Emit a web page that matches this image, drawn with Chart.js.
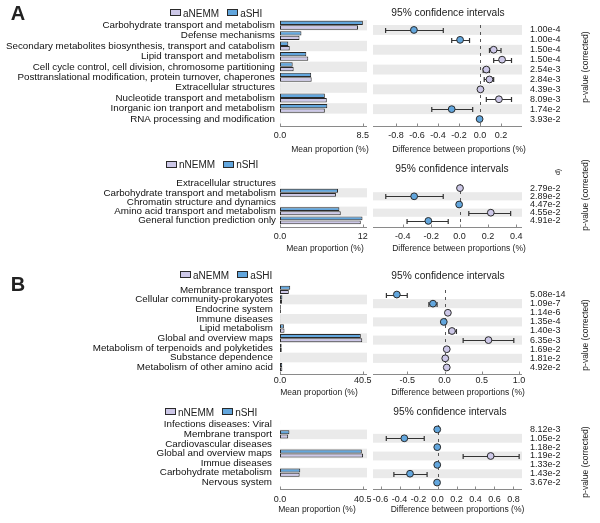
<!DOCTYPE html>
<html>
<head>
<meta charset="utf-8">
<script src="https://cdn.jsdelivr.net/npm/chart.js@4.4.1/dist/chart.umd.min.js"></script>
<style>
  body { margin: 0; background: #fff; overflow: hidden; }
  #fig { position: relative; width: 600px; height: 523px; font-family: "Liberation Sans", Arial, sans-serif; color: #222; }
  #fig canvas { position: absolute; }
  .txt { position: absolute; white-space: nowrap; line-height: 1; }
  .legend { position: absolute; white-space: nowrap; font-size: 10px; line-height: 1; transform: translate(0, -50%); }
  .legend .box { display: inline-block; width: 9px; height: 5px; border: 1px solid #2a2a2a; margin-right: 2px; vertical-align: middle; position: relative; top: -1px; }
</style>
</head>
<body>
<div id="fig"></div>
<script>
// ---- panel A, top: aNEMM vs aSHI ----
const a1Groups = ["aNEMM", "aSHI"];
const a1Cats = [
  "Carbohydrate transport and metabolism",
  "Defense mechanisms",
  "Secondary metabolites biosynthesis, transport and catabolism",
  "Lipid transport and metabolism",
  "Cell cycle control, cell division, chromosome partitioning",
  "Posttranslational modification, protein turnover, chaperones",
  "Extracellular structures",
  "Nucleotide transport and metabolism",
  "Inorganic ion tranport and metabolism",
  "RNA processing and modification",
];
const a1Nemm = [8.0, 2.0, 1.0, 2.9, 1.4, 3.25, 0.02, 4.8, 4.6, 0.02];
const a1Shi = [8.5, 2.2, 0.85, 2.7, 1.3, 3.2, 0.02, 4.6, 4.85, 0.02];
const a1Diff = [-0.63, -0.19, 0.13, 0.21, 0.06, 0.09, 0.004, 0.18, -0.27, -0.004];
const a1Lo = [-0.9, -0.27, 0.09, 0.13, 0.03, 0.04, 0.004, 0.06, -0.46, -0.004];
const a1Hi = [-0.35, -0.1, 0.2, 0.3, 0.09, 0.13, 0.004, 0.3, -0.07, -0.004];
const a1P = ["1.00e-4", "1.00e-4", "1.50e-4", "1.50e-4", "2.54e-3", "2.84e-3", "4.39e-3", "8.09e-3", "1.74e-2", "3.93e-2"];
const a1MeanTicks = [0, 8.5];
const a1DiffTicks = [-0.8, -0.6, -0.4, -0.2, 0, 0.2];

// ---- panel A, bottom: nNEMM vs nSHI ----
const a2Groups = ["nNEMM", "nSHI"];
const a2Cats = [
  "Extracellular structures",
  "Carbohydrate transport and metabolism",
  "Chromatin structure and dynamics",
  "Amino acid transport and metabolism",
  "General function prediction only",
];
const a2Nemm = [0.02, 8.1, 0.02, 8.8, 11.7];
const a2Shi = [0.02, 8.4, 0.02, 8.6, 11.95];
const a2Diff = [0.003, -0.32, -0.003, 0.22, -0.22];
const a2Lo = [0.003, -0.52, -0.003, 0.065, -0.37];
const a2Hi = [0.003, -0.115, -0.003, 0.36, -0.08];
const a2P = ["2.79e-2", "2.89e-2", "4.47e-2", "4.55e-2", "4.91e-2"];
const a2MeanTicks = [0, 12];
const a2DiffTicks = [-0.4, -0.2, 0, 0.2, 0.4];

// ---- panel B, top: aNEMM vs aSHI ----
const b1Groups = ["aNEMM", "aSHI"];
const b1Cats = [
  "Membrance transport",
  "Cellular community-prokaryotes",
  "Endocrine system",
  "Immune diseases",
  "Lipid metabolism",
  "Global and overview maps",
  "Metabolism of terpenoids and polyketides",
  "Substance dependence",
  "Metabolism of other amino acid",
];
const b1Nemm = [4.3, 1.0, 0.45, 0.1, 2.2, 40.2, 0.85, 0.06, 1.15];
const b1Shi = [5.0, 1.15, 0.4, 0.1, 1.9, 39.5, 0.8, 0.05, 1.1];
const b1Diff = [-0.64, -0.155, 0.045, -0.01, 0.1, 0.59, 0.03, 0.01, 0.03];
const b1Lo = [-0.78, -0.21, 0.045, -0.01, 0.06, 0.25, 0.03, 0.01, 0.03];
const b1Hi = [-0.5, -0.1, 0.045, -0.01, 0.16, 0.93, 0.03, 0.01, 0.03];
const b1P = ["5.08e-14", "1.09e-7", "1.14e-6", "1.35e-4", "1.40e-3", "6.35e-3", "1.69e-2", "1.81e-2", "4.92e-2"];
const b1MeanTicks = [0, 40.5];
const b1DiffTicks = [-0.5, 0, 0.5, 1.0];

// ---- panel B, bottom: nNEMM vs nSHI ----
const b2Groups = ["nNEMM", "nSHI"];
const b2Cats = [
  "Infections diseases: Viral",
  "Membrane transport",
  "Cardiovascular diseases",
  "Global and overview maps",
  "Immue diseases",
  "Carbohydrate metabolism",
  "Nervous system",
];
const b2Nemm = [0.05, 4.0, 0.05, 40.6, 0.05, 9.6, 0.05];
const b2Shi = [0.05, 4.6, 0.05, 40.0, 0.05, 9.9, 0.05];
const b2Diff = [-0.003, -0.35, -0.003, 0.56, -0.003, -0.29, -0.005];
const b2Lo = [-0.003, -0.54, -0.003, 0.27, -0.003, -0.46, -0.005];
const b2Hi = [-0.003, -0.14, -0.003, 0.86, -0.003, -0.11, -0.005];
const b2P = ["8.12e-3", "1.05e-2", "1.18e-2", "1.19e-2", "1.33e-2", "1.43e-2", "3.67e-2"];
const b2MeanTicks = [0, 40.5];
const b2DiffTicks = [-0.6, -0.4, -0.2, 0, 0.2, 0.4, 0.6, 0.8];

/** ────── STYLE ────── */
const BLUE = "#62a6dd";
const LAV = "#cdc8e8";
const EDGE = "#2a2a2a";
const SHADE = "#eaeaea";
const AXIS = "#8a8a8a";

Chart.defaults.font.family = '"Liberation Sans", Arial, sans-serif';
Chart.defaults.color = "#222";

// layout of each sub-plot (pixels on the 600x523 page)
const panels = [
  {
    cats: a1Cats, nemm: a1Nemm, shi: a1Shi, diff: a1Diff, lo: a1Lo, hi: a1Hi, pvals: a1P, groups: a1Groups,
    meanTicks: a1MeanTicks, diffTicks: a1DiffTicks, diffMin: -1.02, diffMax: 0.4,
    top: 20, rowH: 10.37, labelPad: 5, tickPad: 6, letter: "A", letterY: 13,
    legendX: 170, legendY: 13.5, titleX: 448, titleY: 12.5, axisTitleY: 149,
    meanTitleX: 330, diffTitleX: 459, pTitleY: 67,
  },
  {
    cats: a2Cats, nemm: a2Nemm, shi: a2Shi, diff: a2Diff, lo: a2Lo, hi: a2Hi, pvals: a2P, groups: a2Groups,
    meanTicks: a2MeanTicks, diffTicks: a2DiffTicks, diffMin: -0.61, diffMax: 0.44,
    top: 179, rowH: 9.17, labelPad: 4, tickPad: 6,
    legendX: 166, legendY: 165, titleX: 452, titleY: 168.5, axisTitleY: 248,
    meanTitleX: 325, diffTitleX: 459, pTitleY: 195,
  },
  {
    cats: b1Cats, nemm: b1Nemm, shi: b1Shi, diff: b1Diff, lo: b1Lo, hi: b1Hi, pvals: b1P, groups: b1Groups,
    meanTicks: b1MeanTicks, diffTicks: b1DiffTicks, diffMin: -0.96, diffMax: 1.04,
    top: 285, rowH: 9.66, labelPad: 7, tickPad: 3, letter: "B", letterY: 284,
    legendX: 180, legendY: 275.5, titleX: 448, titleY: 275.5, axisTitleY: 391.5,
    meanTitleX: 319, diffTitleX: 458, pTitleY: 335,
  },
  {
    cats: b2Cats, nemm: b2Nemm, shi: b2Shi, diff: b2Diff, lo: b2Lo, hi: b2Hi, pvals: b2P, groups: b2Groups,
    meanTicks: b2MeanTicks, diffTicks: b2DiffTicks, diffMin: -0.68, diffMax: 0.89,
    top: 420, rowH: 9.62, labelPad: 8, tickPad: 7,
    legendX: 165, legendY: 412.5, titleX: 450, titleY: 411.5, axisTitleY: 509,
    meanTitleX: 317, diffTitleX: 457.5, pTitleY: 462,
  },
];

const fig = document.getElementById("fig");

/** ────── PLUGINS ────── */
// grey band on every other row, counted from the bottom row
const shadePlugin = {
  id: "rowShade",
  beforeDatasetsDraw(chart) {
    const { ctx, chartArea: a, scales } = chart;
    const y = scales.y;
    const n = chart.data.labels.length;
    const h = (a.bottom - a.top) / n;
    ctx.save();
    ctx.fillStyle = SHADE;
    for (let i = 0; i < n; i++) {
      if ((n - 1 - i) % 2 !== 1) continue;
      const cy = y.getPixelForValue(i);
      ctx.fillRect(a.left, cy - h / 2, a.right - a.left, h);
    }
    ctx.restore();
  },
};

// bottom axis line with small upward ticks, a little below the rows
const axisPlugin = {
  id: "axisLine",
  afterDraw(chart) {
    const { ctx, chartArea: a, scales } = chart;
    const x = scales.x;
    const yl = Math.round(a.bottom + 2) + 0.5;
    ctx.save();
    ctx.strokeStyle = AXIS;
    ctx.lineWidth = 1;
    ctx.beginPath();
    ctx.moveTo(a.left, yl);
    ctx.lineTo(a.right, yl);
    x.ticks.forEach((t) => {
      const px = Math.round(x.getPixelForValue(t.value)) + 0.5;
      ctx.moveTo(px, yl);
      ctx.lineTo(px, yl - 3);
    });
    ctx.stroke();
    ctx.restore();
  },
};

// dashed zero line and the confidence interval whiskers
const ciPlugin = {
  id: "ciMarks",
  beforeDatasetsDraw(chart) {
    const { ctx, chartArea: a, scales } = chart;
    const { x, y } = scales;
    const ds = chart.data.datasets[0];
    ctx.save();
    const x0 = Math.round(x.getPixelForValue(0)) + 0.5;
    ctx.strokeStyle = "#555";
    ctx.lineWidth = 1;
    ctx.setLineDash([3, 4]);
    ctx.beginPath();
    ctx.moveTo(x0, a.top);
    ctx.lineTo(x0, a.bottom);
    ctx.stroke();
    ctx.setLineDash([]);
    ctx.strokeStyle = "#333";
    ctx.lineWidth = 1.2;
    ds.errLo.forEach((lo, i) => {
      const hi = ds.errHi[i];
      if (hi - lo < 1e-6) return;
      const py = Math.round(y.getPixelForValue(i)) + 0.5;
      const p1 = x.getPixelForValue(lo);
      const p2 = x.getPixelForValue(hi);
      ctx.beginPath();
      ctx.moveTo(p1, py);
      ctx.lineTo(p2, py);
      ctx.moveTo(p1, py - 2.5);
      ctx.lineTo(p1, py + 2.5);
      ctx.moveTo(p2, py - 2.5);
      ctx.lineTo(p2, py + 2.5);
      ctx.stroke();
    });
    ctx.restore();
  },
};

/** ────── HELPERS ────── */
function makeCanvas(left, top, w, h) {
  const cv = document.createElement("canvas");
  cv.width = w;
  cv.height = h;
  cv.style.left = left + "px";
  cv.style.top = top + "px";
  cv.style.width = w + "px";
  cv.style.height = h + "px";
  fig.appendChild(cv);
  return cv;
}

function addText(str, x, y, size, opts = {}) {
  const el = document.createElement("div");
  el.className = "txt";
  el.textContent = str;
  el.style.fontSize = size + "px";
  el.style.left = x + "px";
  el.style.top = y + "px";
  let tf = "translate(-50%, -50%)";
  if (opts.rotate) tf += ` rotate(${opts.rotate}deg)`;
  el.style.transform = tf;
  if (opts.bold) el.style.fontWeight = "bold";
  fig.appendChild(el);
}

function addLegend(names, x, y) {
  const el = document.createElement("div");
  el.className = "legend";
  el.style.left = x + "px";
  el.style.top = y + "px";
  el.innerHTML =
    `<span class="box" style="background:${LAV}"></span>${names[0]}` +
    `<span class="box" style="background:${BLUE};margin-left:8px"></span>${names[1]}`;
  fig.appendChild(el);
}

const quietGrid = { display: false, drawTicks: false };

/** ────── MEAN PROPORTION BARS ────── */
function drawMeans(p) {
  const n = p.cats.length;
  const h = Math.round(p.rowH * n) + 24;
  const cv = makeCanvas(0, p.top, 376, h);
  const barStyle = { borderColor: EDGE, borderWidth: 1, borderSkipped: false, categoryPercentage: 0.88, barPercentage: 0.95 };
  new Chart(cv, {
    type: "bar",
    data: {
      labels: p.cats,
      datasets: [
        { label: p.groups[1], data: p.shi, backgroundColor: BLUE, ...barStyle },
        { label: p.groups[0], data: p.nemm, backgroundColor: LAV, ...barStyle },
      ],
    },
    options: {
      indexAxis: "y",
      responsive: false,
      animation: false,
      layout: { padding: { right: 9 } },
      scales: {
        x: {
          type: "linear",
          min: 0,
          max: p.meanTicks[1] * 1.05,
          afterBuildTicks: (s) => { s.ticks = p.meanTicks.map((v) => ({ value: v })); },
          afterFit: (s) => { s.height = 24; s.paddingLeft = 0; s.paddingRight = 0; },
          ticks: { padding: p.tickPad, font: { size: 9 }, maxRotation: 0, autoSkip: false,
            callback: (v) => (v === 0 ? "0.0" : String(v)) },
          grid: quietGrid,
          border: { display: false },
        },
        y: {
          afterFit: (s) => { s.width = 280; s.paddingTop = 0; s.paddingBottom = 0; },
          ticks: { padding: p.labelPad, font: { size: 9.8, lineHeight: 1 }, color: "#111", autoSkip: false },
          grid: quietGrid,
          border: { display: false },
        },
      },
      plugins: { legend: { display: false }, tooltip: { enabled: false } },
    },
    plugins: [shadePlugin, axisPlugin],
  });
}

/** ────── DIFFERENCE / CONFIDENCE INTERVALS ────── */
function drawDiffs(p) {
  const n = p.cats.length;
  const h = Math.round(p.rowH * n) + 24;
  const cv = makeCanvas(368, p.top, 205, h);
  new Chart(cv, {
    type: "line",
    data: {
      labels: p.cats,
      datasets: [
        {
          data: p.diff,
          errLo: p.lo,
          errHi: p.hi,
          showLine: false,
          clip: false,
          pointRadius: 3.4,
          pointBackgroundColor: p.diff.map((d) => (d < 0 ? BLUE : LAV)),
          pointBorderColor: EDGE,
          pointBorderWidth: 1,
        },
      ],
    },
    options: {
      indexAxis: "y",
      responsive: false,
      animation: false,
      layout: { padding: { left: 5 } },
      scales: {
        x: {
          type: "linear",
          min: p.diffMin,
          max: p.diffMax,
          afterBuildTicks: (s) => { s.ticks = p.diffTicks.map((v) => ({ value: v })); },
          afterFit: (s) => { s.height = 24; s.paddingLeft = 0; s.paddingRight = 0; },
          ticks: { padding: p.tickPad, font: { size: 9 }, maxRotation: 0, autoSkip: false,
            callback: (v) => v.toFixed(1) },
          grid: quietGrid,
          border: { display: false },
        },
        y: {
          type: "category",
          position: "right",
          offset: true,
          afterFit: (s) => { s.width = 51; s.paddingTop = 0; s.paddingBottom = 0; },
          ticks: { padding: 8, font: { size: 9, lineHeight: 1 }, autoSkip: false,
            callback: (v, i) => p.pvals[i] },
          grid: quietGrid,
          border: { display: false },
        },
      },
      plugins: { legend: { display: false }, tooltip: { enabled: false } },
    },
    plugins: [shadePlugin, ciPlugin, axisPlugin],
  });
}

/** ────── TEXT AROUND EACH PANEL ────── */
function drawLabels(p) {
  if (p.letter) addText(p.letter, 18, p.letterY, 20, { bold: true });
  addLegend(p.groups, p.legendX, p.legendY);
  addText("95% confidence intervals", p.titleX, p.titleY, 10.2);
  addText("Mean proportion (%)", p.meanTitleX, p.axisTitleY, 8.5);
  addText("Difference between proportions (%)", p.diffTitleX, p.axisTitleY, 8.5);
  addText("p-value (corrected)", 585, p.pTitleY, 8.5, { rotate: -90 });
}

/** ────── BOOTSTRAP ────── */
panels.forEach((p) => {
  drawMeans(p);
  drawDiffs(p);
  drawLabels(p);
});
addText("d)", 557, 172, 7, { rotate: -90 });
</script>
</body>
</html>
